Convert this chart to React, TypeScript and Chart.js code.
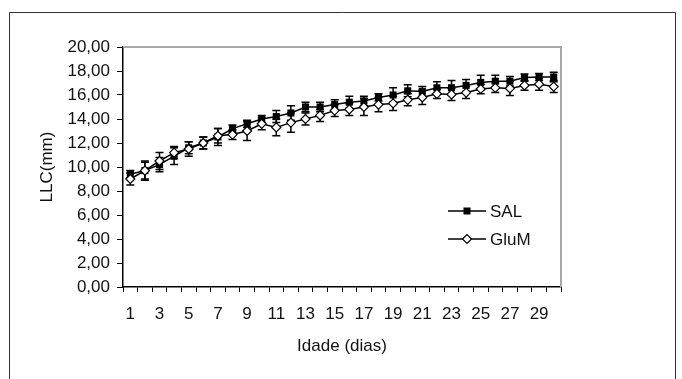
import React, { useEffect, useRef } from 'react';
import { Chart, registerables } from 'chart.js';

Chart.register(...registerables);

const days = ['1','2','3','4','5','6','7','8','9','10','11','12','13','14','15','16','17','18','19','20','21','22','23','24','25','26','27','28','29','30'];

const salMean = [9.4, 9.7, 10.2, 10.9, 11.6, 12.0, 12.5, 13.2, 13.6, 14.0, 14.2, 14.5, 15.0, 15.0, 15.2, 15.4, 15.5, 15.8, 16.0, 16.35, 16.3, 16.6, 16.6, 16.8, 17.05, 17.15, 17.15, 17.45, 17.5, 17.5];
const salErr = [0.3, 0.8, 0.6, 0.7, 0.5, 0.5, 0.7, 0.3, 0.3, 0.3, 0.5, 0.6, 0.4, 0.4, 0.4, 0.5, 0.4, 0.3, 0.6, 0.5, 0.4, 0.5, 0.6, 0.5, 0.6, 0.5, 0.4, 0.3, 0.3, 0.4];

const glumMean = [9.0, 9.7, 10.5, 11.2, 11.5, 12.0, 12.6, 12.7, 13.0, 13.6, 13.3, 13.7, 14.0, 14.3, 14.7, 14.8, 15.0, 15.2, 15.3, 15.6, 15.8, 16.1, 16.05, 16.2, 16.5, 16.6, 16.55, 16.8, 16.9, 16.7];
const glumErr = [0.5, 0.7, 0.7, 0.5, 0.6, 0.5, 0.6, 0.4, 0.8, 0.5, 0.7, 0.8, 0.5, 0.5, 0.5, 0.5, 0.7, 0.6, 0.6, 0.5, 0.6, 0.4, 0.5, 0.5, 0.4, 0.4, 0.6, 0.4, 0.5, 0.5];

const seriesNames = ['SAL', 'GluM'];
const yMin = 0;
const yMax = 20;
const yStep = 2;
const xTitle = 'Idade (dias)';
const yTitle = 'LLC(mm)';

const FONT = "'Liberation Sans', Arial, sans-serif";
const FS = 17;

const errorBarPlugin = {
  id: 'errorBars',
  beforeDatasetsDraw(chart: any) {
    const { ctx, scales } = chart;
    const xs = scales.x;
    const ys = scales.y;
    ctx.save();
    ctx.strokeStyle = '#000';
    ctx.lineWidth = 1.5;
    chart.data.datasets.forEach((ds: any) => {
      const errs: number[] = ds.errors || [];
      ds.data.forEach((v: number, i: number) => {
        const e = errs[i];
        if (e == null) return;
        const x = xs.getPixelForValue(i);
        const yt = ys.getPixelForValue(v + e);
        const yb = ys.getPixelForValue(v - e);
        const cw = 4;
        ctx.beginPath();
        ctx.moveTo(x, yt);
        ctx.lineTo(x, yb);
        ctx.moveTo(x - cw, yt);
        ctx.lineTo(x + cw, yt);
        ctx.moveTo(x - cw, yb);
        ctx.lineTo(x + cw, yb);
        ctx.stroke();
      });
    });
    ctx.restore();
  },
};

const framePlugin = {
  id: 'frame',
  beforeDraw(chart: any) {
    const { ctx, width, height } = chart;
    ctx.save();
    ctx.fillStyle = '#fff';
    ctx.fillRect(0, 0, width, height);
    ctx.strokeStyle = '#333';
    ctx.lineWidth = 1;
    ctx.beginPath();
    ctx.moveTo(9.5, height + 5);
    ctx.lineTo(9.5, 12.5);
    ctx.lineTo(675.5, 12.5);
    ctx.lineTo(675.5, height + 5);
    ctx.stroke();
    ctx.restore();
  },
  beforeDatasetsDraw(chart: any) {
    const { ctx, chartArea } = chart;
    ctx.save();
    ctx.strokeStyle = '#a8a8a8';
    ctx.lineWidth = 2;
    ctx.beginPath();
    ctx.moveTo(chartArea.left, chartArea.top);
    ctx.lineTo(chartArea.right, chartArea.top);
    ctx.lineTo(chartArea.right, chartArea.bottom);
    ctx.stroke();
    ctx.restore();
  },
};

const legendPlugin = {
  id: 'customLegend',
  afterDraw(chart: any) {
    const { ctx } = chart;
    const items = [
      { label: seriesNames[0], y: 211, style: 'rect' },
      { label: seriesNames[1], y: 239, style: 'diamond' },
    ];
    ctx.save();
    items.forEach((it) => {
      ctx.strokeStyle = '#000';
      ctx.lineWidth = 1.5;
      ctx.beginPath();
      ctx.moveTo(448, it.y);
      ctx.lineTo(486, it.y);
      ctx.stroke();
      const mx = 467;
      if (it.style === 'rect') {
        ctx.fillStyle = '#000';
        ctx.fillRect(mx - 3.5, it.y - 3.5, 7, 7);
      } else {
        ctx.fillStyle = '#fff';
        ctx.beginPath();
        ctx.moveTo(mx - 4.5, it.y);
        ctx.lineTo(mx, it.y - 4.5);
        ctx.lineTo(mx + 4.5, it.y);
        ctx.lineTo(mx, it.y + 4.5);
        ctx.closePath();
        ctx.fill();
        ctx.lineWidth = 1.2;
        ctx.stroke();
      }
      ctx.fillStyle = '#111';
      ctx.font = `${FS}px ${FONT}`;
      ctx.textAlign = 'left';
      ctx.textBaseline = 'middle';
      ctx.fillText(it.label, 490, it.y + 1);
    });
    ctx.restore();
  },
};

export default function App() {
  const ref = useRef<HTMLCanvasElement | null>(null);

  useEffect(() => {
    if (!ref.current) return;
    const chart = new Chart(ref.current, {
      type: 'line',
      data: {
        labels: days,
        datasets: [
          {
            label: seriesNames[1],
            data: glumMean,
            errors: glumErr,
            borderColor: '#000',
            borderWidth: 1.5,
            pointStyle: 'rectRot',
            pointRadius: 4.5,
            pointBackgroundColor: '#fff',
            pointBorderColor: '#000',
            pointBorderWidth: 1.2,
            tension: 0,
          } as any,
          {
            label: seriesNames[0],
            data: salMean,
            errors: salErr,
            borderColor: '#000',
            borderWidth: 1.5,
            pointStyle: 'rect',
            pointRadius: 5,
            pointBackgroundColor: '#000',
            pointBorderColor: '#000',
            pointBorderWidth: 0,
            tension: 0,
          } as any,
        ],
      },
      options: {
        animation: false,
        responsive: false,
        events: [],
        layout: { padding: { left: 0, top: 47, right: 121, bottom: 0 } },
        plugins: {
          legend: { display: false },
          tooltip: { enabled: false },
        },
        scales: {
          x: {
            type: 'category',
            offset: true,
            grid: {
              offset: true,
              drawOnChartArea: false,
              drawTicks: true,
              tickLength: 5,
              color: '#000',
              lineWidth: 1,
            },
            border: { display: true, color: '#000', width: 1.5 },
            ticks: {
              autoSkip: false,
              maxRotation: 0,
              padding: 12,
              color: '#111',
              font: { family: FONT, size: FS },
              callback: (_v: any, i: number) => (i % 2 === 0 ? days[i] : ''),
            },
            title: {
              display: true,
              text: xTitle,
              color: '#111',
              font: { family: FONT, size: FS },
              padding: { top: 0, bottom: 22 },
            },
            afterFit: (s: any) => {
              s.height = 92;
            },
          },
          y: {
            min: yMin,
            max: yMax,
            grid: {
              drawOnChartArea: false,
              drawTicks: true,
              tickLength: 6,
              color: '#000',
              lineWidth: 1,
            },
            border: { display: true, color: '#000', width: 1.5 },
            ticks: {
              stepSize: yStep,
              padding: 7,
              color: '#111',
              font: { family: FONT, size: FS },
              callback: (v: any) => Number(v).toFixed(2).replace('.', ','),
            },
            title: {
              display: true,
              text: yTitle,
              color: '#111',
              font: { family: FONT, size: FS },
              padding: { top: 37, bottom: 0 },
            },
            afterFit: (s: any) => {
              s.width = 123;
            },
          },
        },
      } as any,
      plugins: [framePlugin, errorBarPlugin, legendPlugin],
    });
    return () => chart.destroy();
  }, []);

  return (
    <div style={{ position: 'absolute', left: 0, top: 0, width: 682, height: 379, background: '#fff' }}>
      <canvas ref={ref} width={682} height={379} style={{ display: 'block', width: 682, height: 379 }} />
    </div>
  );
}
